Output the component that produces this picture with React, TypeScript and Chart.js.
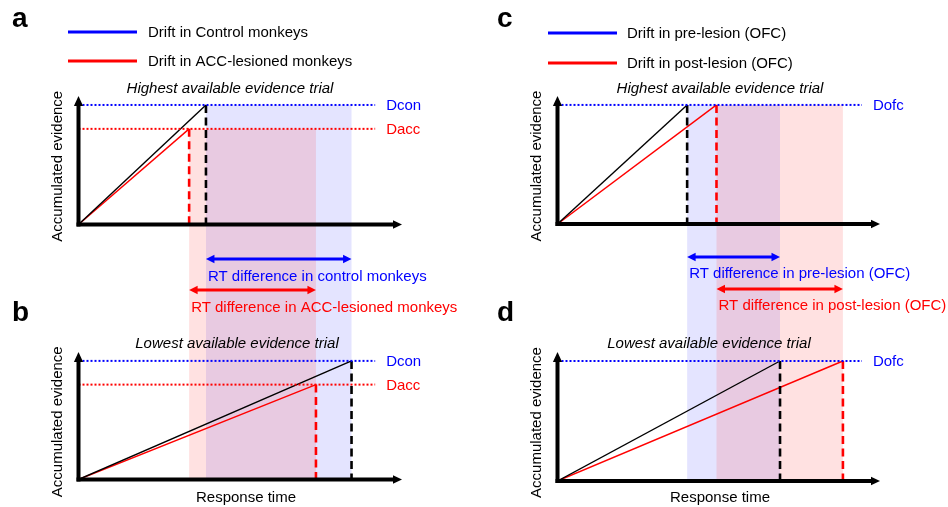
import React, { useEffect, useRef } from "react";
import { Chart, registerables } from "chart.js";

Chart.register(...registerables);

const FONT = '"Liberation Sans", Arial, Helvetica, sans-serif';

// ---------------- shared text ----------------
const PANEL_TITLES = ["Highest available evidence trial", "Lowest available evidence trial"];
const X_TITLE = "Response time";
const Y_TITLE = "Accumulated evidence";

// ---------------- left column (a, b): control vs ACC-lesioned ----------------
const LEFT_LETTERS = ["a", "b"];
const LEFT_LEGEND = ["Drift in Control monkeys", "Drift in ACC-lesioned monkeys"];
const LEFT_BOUND_LABELS = ["Dcon", "Dacc"];
const LEFT_BOUNDS = [1.0, 0.8]; // decision bound per group (evidence units)
const LEFT_RT_HIGH = [3.94, 3.42]; // RT on highest-evidence trial (control, ACC)
const LEFT_RT_LOW = [8.44, 7.34]; // RT on lowest-evidence trial (control, ACC)
const LEFT_ARROW_LABELS = ["RT difference in control monkeys", "RT difference in ACC-lesioned monkeys"];

// ---------------- right column (c, d): pre vs post OFC lesion ----------------
const RIGHT_LETTERS = ["c", "d"];
const RIGHT_LEGEND = ["Drift in pre-lesion (OFC)", "Drift in post-lesion (OFC)"];
const RIGHT_BOUND_LABELS = ["Dofc"]; // one shared bound
const RIGHT_BOUNDS = [1.0, 1.0];
const RIGHT_RT_HIGH = [4.02, 4.93];
const RIGHT_RT_LOW = [6.9, 8.85];
const RIGHT_ARROW_LABELS = ["RT difference in pre-lesion (OFC)", "RT difference in post-lesion (OFC)"];

// ---------------- styles ----------------
const SERIES_COLORS = ["#0000ff", "#ff0000"];
const TRAJ_COLORS = ["#000000", "#ff0000"];
const SHADES = ["rgba(0,0,255,0.105)", "rgba(255,0,0,0.118)"];
const Y_MAX = 1.075;

type Layout = {
  canvasLeft: number;
  width: number;
  padding: { left: number; right: number; top: number; bottom: number };
  weights: number[];
  xMax: number;
  boundEnd: number;
  letterX: number;
  letterY: number[];
  legendX: number[];
  legendY: number[];
  titleX: number[];
  titleY: number[];
  xTitle: number[];
  arrowY: number[];
  arrowTextY: number[];
};

type Column = {
  key: string;
  letters: string[];
  legend: string[];
  boundLabels: string[];
  bounds: number[];
  rtHigh: number[];
  rtLow: number[];
  arrowLabels: string[];
  layout: Layout;
};

const LEFT: Column = {
  key: "left",
  letters: LEFT_LETTERS,
  legend: LEFT_LEGEND,
  boundLabels: LEFT_BOUND_LABELS,
  bounds: LEFT_BOUNDS,
  rtHigh: LEFT_RT_HIGH,
  rtLow: LEFT_RT_LOW,
  arrowLabels: LEFT_ARROW_LABELS,
  layout: {
    canvasLeft: 0,
    width: 474,
    padding: { left: 78.5, right: 72, top: 96, bottom: 27.5 },
    weights: [128.5, 127.5, 127.5],
    xMax: 10,
    boundEnd: 9.17,
    letterX: 12,
    letterY: [27, 321],
    legendX: [68, 137, 148],
    legendY: [32, 61],
    titleX: [230, 237],
    titleY: [89, 343.5],
    xTitle: [246, 498],
    arrowY: [259, 290],
    arrowTextY: [277, 308],
  },
};

const RIGHT: Column = {
  key: "right",
  letters: RIGHT_LETTERS,
  legend: RIGHT_LEGEND,
  boundLabels: RIGHT_BOUND_LABELS,
  bounds: RIGHT_BOUNDS,
  rtHigh: RIGHT_RT_HIGH,
  rtLow: RIGHT_RT_LOW,
  arrowLabels: RIGHT_ARROW_LABELS,
  layout: {
    canvasLeft: 474,
    width: 474,
    padding: { left: 83.5, right: 68, top: 96, bottom: 26 },
    weights: [128, 128, 129],
    xMax: 10,
    boundEnd: 9.44,
    letterX: 23,
    letterY: [27, 321],
    legendX: [74, 143, 153],
    legendY: [33, 63],
    titleX: [246, 235],
    titleY: [89, 344],
    xTitle: [246, 498],
    arrowY: [257, 289],
    arrowTextY: [274, 306],
  },
};

function tri(ctx: CanvasRenderingContext2D, tx: number, ty: number, dx: number, dy: number, len: number, hw: number) {
  // triangle with tip at (tx,ty), pointing in direction (dx,dy)
  const bx = tx - dx * len;
  const by = ty - dy * len;
  const px = -dy;
  const py = dx;
  ctx.beginPath();
  ctx.moveTo(tx, ty);
  ctx.lineTo(bx + px * hw, by + py * hw);
  ctx.lineTo(bx - px * hw, by - py * hw);
  ctx.closePath();
  ctx.fill();
}

function overlayPlugin(col: Column) {
  const L = col.layout;
  return {
    id: "overlay-" + col.key,
    beforeDatasetsDraw(chart: any) {
      const ctx: CanvasRenderingContext2D = chart.ctx;
      const x = chart.scales.x;
      const yT = chart.scales.yTop;
      const yB = chart.scales.yBot;
      const bottom = yB.getPixelForValue(0);
      ctx.save();
      col.rtHigh.forEach((rt, i) => {
        const x0 = x.getPixelForValue(rt);
        const x1 = x.getPixelForValue(col.rtLow[i]);
        const top = yT.getPixelForValue(col.bounds[i]);
        ctx.fillStyle = SHADES[i];
        ctx.fillRect(x0, top, x1 - x0, bottom - top);
      });
      ctx.restore();
    },
    afterDatasetsDraw(chart: any) {
      const ctx: CanvasRenderingContext2D = chart.ctx;
      const x = chart.scales.x;
      const panels = [chart.scales.yTop, chart.scales.yBot];
      ctx.save();
      // axes
      panels.forEach((y: any, p: number) => {
        const ox = x.getPixelForValue(0);
        const oy = y.getPixelForValue(0);
        const tipY = y.getPixelForValue(Y_MAX);
        const tipX = x.getPixelForValue(L.xMax);
        ctx.strokeStyle = "#000";
        ctx.fillStyle = "#000";
        ctx.lineWidth = 4;
        ctx.lineCap = "butt";
        ctx.beginPath();
        ctx.moveTo(ox, oy + 2);
        ctx.lineTo(ox, tipY + 8);
        ctx.stroke();
        tri(ctx, ox, tipY, 0, -1, 10, 4.6);
        ctx.beginPath();
        ctx.moveTo(ox - 2, oy);
        ctx.lineTo(tipX - 8, oy);
        ctx.stroke();
        tri(ctx, tipX, oy, 1, 0, 9, 4.2);

        // bound labels
        ctx.font = `15px ${FONT}`;
        ctx.textBaseline = "middle";
        ctx.textAlign = "left";
        col.boundLabels.forEach((lab, i) => {
          ctx.fillStyle = SERIES_COLORS[i];
          ctx.fillText(lab, x.getPixelForValue(L.boundEnd) + 11, y.getPixelForValue(col.bounds[i]) + 1);
        });

        // panel title
        ctx.font = `italic 15px ${FONT}`;
        ctx.fillStyle = "#000";
        ctx.textAlign = "center";
        ctx.fillText(PANEL_TITLES[p], L.titleX[p], L.titleY[p]);

        // y title
        ctx.font = `15px ${FONT}`;
        ctx.save();
        ctx.translate(ox - 20.5, (tipY + oy) / 2 + 6);
        ctx.rotate(-Math.PI / 2);
        ctx.fillText(Y_TITLE, 0, 0);
        ctx.restore();

        // letter
        ctx.font = `bold 28px ${FONT}`;
        ctx.textAlign = "left";
        ctx.textBaseline = "alphabetic";
        ctx.fillText(col.letters[p], L.letterX, L.letterY[p]);
      });

      // x title
      ctx.font = `15px ${FONT}`;
      ctx.fillStyle = "#000";
      ctx.textAlign = "center";
      ctx.textBaseline = "middle";
      ctx.fillText(X_TITLE, L.xTitle[0], L.xTitle[1]);

      // legend
      col.legend.forEach((lab, i) => {
        ctx.strokeStyle = SERIES_COLORS[i];
        ctx.lineWidth = 3;
        ctx.beginPath();
        ctx.moveTo(L.legendX[0], L.legendY[i]);
        ctx.lineTo(L.legendX[1], L.legendY[i]);
        ctx.stroke();
        ctx.fillStyle = "#000";
        ctx.textAlign = "left";
        ctx.fillText(lab, L.legendX[2], L.legendY[i] + 1);
      });

      // RT difference arrows
      col.arrowLabels.forEach((lab, i) => {
        const x0 = x.getPixelForValue(col.rtHigh[i]);
        const x1 = x.getPixelForValue(col.rtLow[i]);
        const yy = L.arrowY[i];
        ctx.strokeStyle = SERIES_COLORS[i];
        ctx.fillStyle = SERIES_COLORS[i];
        ctx.lineWidth = 3;
        ctx.beginPath();
        ctx.moveTo(x0 + 6, yy);
        ctx.lineTo(x1 - 6, yy);
        ctx.stroke();
        tri(ctx, x1, yy, 1, 0, 8.5, 4.2);
        tri(ctx, x0, yy, -1, 0, 8.5, 4.2);
        ctx.textAlign = "left";
        ctx.textBaseline = "middle";
        ctx.fillText(lab, x0 + 2, L.arrowTextY[i]);
      });
      ctx.restore();
    },
  };
}

function buildConfig(col: Column): any {
  const L = col.layout;
  const datasets: any[] = [];
  const panels = [
    { yId: "yTop", rts: col.rtHigh },
    { yId: "yBot", rts: col.rtLow },
  ];
  const base = { xAxisID: "x", showLine: true, pointRadius: 0, pointHoverRadius: 0, fill: false, tension: 0 };
  panels.forEach((p) => {
    col.boundLabels.forEach((lab, i) => {
      datasets.push({
        ...base,
        label: lab,
        yAxisID: p.yId,
        data: [
          { x: 0, y: col.bounds[i] },
          { x: L.boundEnd, y: col.bounds[i] },
        ],
        borderColor: SERIES_COLORS[i],
        borderWidth: 2,
        borderDash: [2, 2],
      });
    });
    p.rts.forEach((rt, i) => {
      datasets.push({
        ...base,
        label: col.legend[i],
        yAxisID: p.yId,
        data: [
          { x: 0, y: 0 },
          { x: rt, y: col.bounds[i] },
        ],
        borderColor: TRAJ_COLORS[i],
        borderWidth: 1.4,
      });
      datasets.push({
        ...base,
        label: col.legend[i] + " RT",
        yAxisID: p.yId,
        data: [
          { x: rt, y: col.bounds[i] },
          { x: rt, y: 0 },
        ],
        borderColor: TRAJ_COLORS[i],
        borderWidth: 2.6,
        borderDash: [8, 4.5],
      });
    });
  });

  const yBase = { type: "linear", axis: "y", position: "left", stack: "col", display: false };
  return {
    type: "scatter",
    data: { datasets },
    options: {
      responsive: false,
      animation: false,
      events: [],
      layout: { padding: L.padding },
      plugins: { legend: { display: false }, tooltip: { enabled: false }, title: { display: false } },
      elements: { point: { radius: 0, hoverRadius: 0 }, line: { tension: 0 } },
      scales: {
        x: { type: "linear", axis: "x", position: "bottom", min: 0, max: L.xMax, display: false },
        yBot: { ...yBase, stackWeight: L.weights[2], min: 0, max: Y_MAX },
        yMid: { ...yBase, stackWeight: L.weights[1], min: 0, max: 1 },
        yTop: { ...yBase, stackWeight: L.weights[0], min: 0, max: Y_MAX },
      },
    },
    plugins: [overlayPlugin(col)],
  };
}

function ColumnChart({ col }: { col: Column }) {
  const ref = useRef<HTMLCanvasElement>(null);
  useEffect(() => {
    const chart = new Chart(ref.current as HTMLCanvasElement, buildConfig(col));
    return () => chart.destroy();
  }, [col]);
  return (
    <canvas
      ref={ref}
      width={col.layout.width}
      height={507}
      style={{ position: "absolute", left: col.layout.canvasLeft, top: 0, width: col.layout.width, height: 507 }}
    />
  );
}

export default function App() {
  return (
    <div style={{ position: "absolute", left: 0, top: 0, width: 948, height: 507, background: "#fff", overflow: "hidden" }}>
      <ColumnChart col={LEFT} />
      <ColumnChart col={RIGHT} />
    </div>
  );
}
